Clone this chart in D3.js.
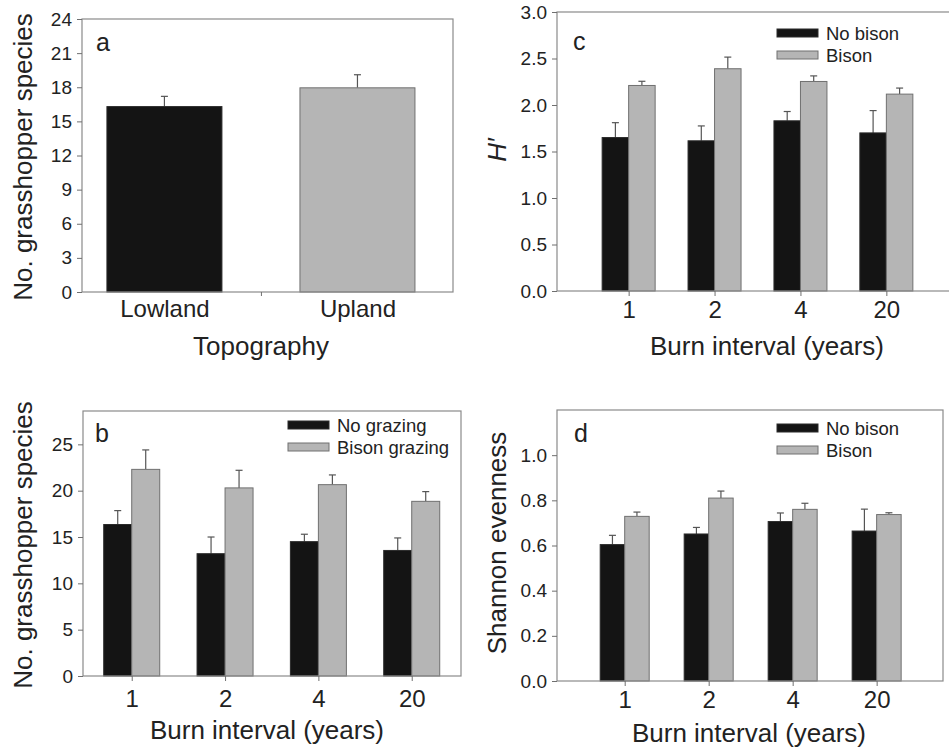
<!DOCTYPE html>
<html>
<head>
<meta charset="utf-8">
<script src="https://cdn.jsdelivr.net/npm/d3@7"></script>
<style>
  body { margin: 0; background: #fff; }
  svg { display: block; font-family: "Liberation Sans", Arial, Helvetica, sans-serif; }
  .tick line { stroke: #6f6f6f; }
  .tick text { fill: #222; }
</style>
</head>
<body>
<script>
// categories
const topoCategories = ["Lowland", "Upland"];
const burnIntervals = ["1", "2", "4", "20"];

// legend labels
const grazingLabels = ["No grazing", "Bison grazing"];
const bisonLabels = ["No bison", "Bison"];

// a - species richness by topography
const topoMeans = [16.3, 17.95];
const topoErrors = [0.9, 1.15];

// b - species richness by burn interval
const richnessNoGrazing = [16.35, 13.2, 14.5, 13.55];
const richnessNoGrazingErr = [1.5, 1.8, 0.8, 1.35];
const richnessGrazing = [22.3, 20.3, 20.65, 18.85];
const richnessGrazingErr = [2.1, 1.9, 1.05, 1.05];

// c - H'
const diversityNoBison = [1.65, 1.615, 1.83, 1.70];
const diversityNoBisonErr = [0.16, 0.16, 0.10, 0.24];
const diversityBison = [2.21, 2.39, 2.253, 2.117];
const diversityBisonErr = [0.045, 0.125, 0.06, 0.065];

// d - Shannon evenness
const evennessNoBison = [0.604, 0.651, 0.706, 0.664];
const evennessNoBisonErr = [0.041, 0.029, 0.038, 0.097];
const evennessBison = [0.729, 0.81, 0.76, 0.737];
const evennessBisonErr = [0.019, 0.031, 0.027, 0.008];

// tick labels
const ticksA = [0, 3, 6, 9, 12, 15, 18, 21, 24];
const ticksB = [0, 5, 10, 15, 20, 25];
const ticksC = [0, 0.5, 1.0, 1.5, 2.0, 2.5, 3.0];
const ticksD = [0, 0.2, 0.4, 0.6, 0.8, 1.0];

(() => {
  const BLACK = "#141414";
  const GREY = "#b5b5b5";
  const GREY_EDGE = "#707070";
  const TEXT = "#222";

  const edgeFor = (fill) => fill === BLACK ? "#2a2a2a" : GREY_EDGE;

  const svg = d3.select("body").append("svg")
      .attr("width", 949)
      .attr("height", 748);

  const drawPanel = (p) => {
    const w = p.right - p.left,
          h = p.bottom - p.top;
    const g = svg.append("g").attr("transform", "translate(" + p.left + "," + p.top + ")");

    const x = d3.scaleLinear().domain(p.xDomain).range([0, w]);
    const y = d3.scaleLinear().domain(p.yDomain).range([h, 0]);

    // bars + error bars
    p.series.forEach((s, si) => {
      const offset = p.series.length === 1 ? -p.barWidth / 2 : (si === 0 ? -p.barWidth : 0);
      const rows = s.values.map((v, i) => ({ i: i, v: v, e: s.errors[i] }));
      const fill = (d) => typeof s.fill === "function" ? s.fill(d.i) : s.fill;

      g.selectAll(null)
        .data(rows)
        .enter().append("line")
          .attr("x1", d => x(d.i) + offset + p.barWidth / 2)
          .attr("x2", d => x(d.i) + offset + p.barWidth / 2)
          .attr("y1", d => y(d.v))
          .attr("y2", d => y(d.v + d.e))
          .attr("stroke", "#555")
          .attr("stroke-width", 1.2);

      g.selectAll(null)
        .data(rows)
        .enter().append("line")
          .attr("x1", d => x(d.i) + offset + p.barWidth / 2 - 3.5)
          .attr("x2", d => x(d.i) + offset + p.barWidth / 2 + 3.5)
          .attr("y1", d => y(d.v + d.e))
          .attr("y2", d => y(d.v + d.e))
          .attr("stroke", "#555")
          .attr("stroke-width", 1.2);

      g.selectAll(null)
        .data(rows)
        .enter().append("rect")
          .attr("x", d => x(d.i) + offset)
          .attr("y", d => y(d.v))
          .attr("width", p.barWidth)
          .attr("height", d => h - y(d.v))
          .attr("fill", fill)
          .attr("stroke", d => edgeFor(fill(d)))
          .attr("stroke-width", 1);
    });

    // frame
    g.append("rect")
        .attr("width", w)
        .attr("height", h)
        .attr("fill", "none")
        .attr("stroke", "#8a8a8a")
        .attr("stroke-width", 1.2);

    // y axis
    const yAxis = g.append("g")
        .call(d3.axisLeft(y).tickValues(p.yTicks).tickSize(5).tickPadding(5).tickFormat(p.yFormat));
    yAxis.select(".domain").remove();
    yAxis.selectAll("text").attr("font-size", 19).attr("font-family", null);

    // x axis
    const xAxis = g.append("g")
        .attr("transform", "translate(0," + h + ")")
        .call(d3.axisBottom(x)
          .tickValues(p.categories.map((c, i) => i))
          .tickFormat(i => p.categories[i])
          .tickSize(p.xTickMarks ? 5 : 0)
          .tickPadding(p.xPad));
    xAxis.select(".domain").remove();
    xAxis.selectAll("text").attr("font-size", 24).attr("font-family", null);

    if (p.midTick) {
      const mid = g.append("g")
          .attr("transform", "translate(0," + h + ")")
          .call(d3.axisBottom(x).tickValues([0.5]).tickFormat("").tickSize(4));
      mid.select(".domain").remove();
    }

    // panel letter
    svg.append("text")
        .attr("x", p.letterX)
        .attr("y", p.letterY)
        .attr("font-size", 25)
        .attr("fill", TEXT)
        .text(p.letter);

    // axis titles
    svg.append("text")
        .attr("x", p.xTitleX)
        .attr("y", p.xTitleY)
        .attr("text-anchor", "middle")
        .attr("font-size", 26)
        .attr("fill", TEXT)
        .text(p.xTitle);

    const yTitle = svg.append("text")
        .attr("transform", "translate(" + p.yTitleX + "," + p.yTitleY + ") rotate(-90)")
        .attr("text-anchor", "middle")
        .attr("font-size", 26)
        .attr("fill", TEXT);
    if (p.yTitleItalic) {
      yTitle.append("tspan").attr("font-style", "italic").text(p.yTitle);
    } else {
      yTitle.text(p.yTitle);
    }

    // legend
    if (p.legend) {
      const legend = svg.append("g")
        .selectAll("g")
        .data(p.legend)
        .enter().append("g")
          .attr("transform", (d, i) => "translate(" + p.legendX + "," + (p.legendY + i * 22) + ")");

      legend.append("rect")
          .attr("x", 0)
          .attr("y", -11)
          .attr("width", 41)
          .attr("height", 8)
          .attr("fill", (d, i) => p.series[i].fill)
          .attr("stroke", (d, i) => edgeFor(p.series[i].fill));

      legend.append("text")
          .attr("x", 49)
          .attr("font-size", 18.5)
          .attr("fill", TEXT)
          .text(d => d);
    }
  };

  drawPanel({
    left: 82, right: 453, top: 19, bottom: 292,
    xDomain: [-0.427, 1.495], yDomain: [0, 24], yTicks: ticksA, yFormat: d3.format("d"),
    categories: topoCategories, barWidth: 115, xTickMarks: false, midTick: true, xPad: 8,
    series: [{ values: topoMeans, errors: topoErrors, fill: i => i === 0 ? BLACK : GREY }],
    letter: "a", letterX: 96, letterY: 51,
    xTitle: "Topography", xTitleX: 261, xTitleY: 355,
    yTitle: "No. grasshopper species", yTitleX: 32, yTitleY: 157
  });

  drawPanel({
    left: 83, right: 461, top: 411, bottom: 676,
    xDomain: [-0.522, 3.528], yDomain: [0, 28.6], yTicks: ticksB, yFormat: d3.format("d"),
    categories: burnIntervals, barWidth: 28, xTickMarks: true, xPad: 9,
    series: [
      { values: richnessNoGrazing, errors: richnessNoGrazingErr, fill: BLACK },
      { values: richnessGrazing, errors: richnessGrazingErr, fill: GREY }
    ],
    letter: "b", letterX: 95, letterY: 442,
    xTitle: "Burn interval (years)", xTitleX: 267, xTitleY: 739,
    yTitle: "No. grasshopper species", yTitleX: 32, yTitleY: 545,
    legend: grazingLabels, legendX: 288, legendY: 432
  });

  drawPanel({
    left: 557, right: 958, top: 12, bottom: 291,
    xDomain: [-0.834, 3.834], yDomain: [0, 3.0], yTicks: ticksC, yFormat: d3.format(".1f"),
    categories: burnIntervals, barWidth: 26.5, xTickMarks: true, xPad: 5,
    series: [
      { values: diversityNoBison, errors: diversityNoBisonErr, fill: BLACK },
      { values: diversityBison, errors: diversityBisonErr, fill: GREY }
    ],
    letter: "c", letterX: 573, letterY: 50,
    xTitle: "Burn interval (years)", xTitleX: 767, xTitleY: 355,
    yTitle: "H\u2032", yTitleItalic: true, yTitleX: 506, yTitleY: 150,
    legend: bisonLabels, legendX: 777, legendY: 40
  });

  drawPanel({
    left: 557, right: 943, top: 410, bottom: 681,
    xDomain: [-0.806, 3.79], yDomain: [0, 1.2], yTicks: ticksD, yFormat: d3.format(".1f"),
    categories: burnIntervals, barWidth: 24.5, xTickMarks: true, xPad: 5,
    series: [
      { values: evennessNoBison, errors: evennessNoBisonErr, fill: BLACK },
      { values: evennessBison, errors: evennessBisonErr, fill: GREY }
    ],
    letter: "d", letterX: 574, letterY: 442,
    xTitle: "Burn interval (years)", xTitleX: 749, xTitleY: 742,
    yTitle: "Shannon evenness", yTitleX: 506, yTitleY: 543,
    legend: bisonLabels, legendX: 777, legendY: 435
  });
})();
</script>
</body>
</html>
